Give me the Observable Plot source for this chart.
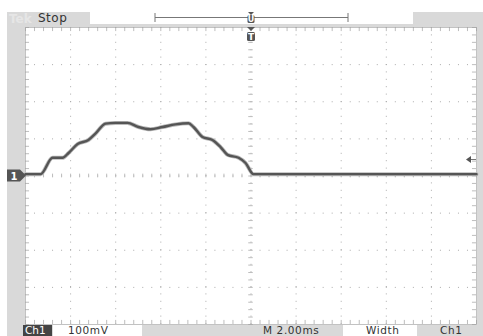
<!DOCTYPE html>
<html><head><meta charset="utf-8">
<script src="https://cdn.jsdelivr.net/npm/d3@7"></script>
<script src="https://cdn.jsdelivr.net/npm/@observablehq/plot@0.6"></script>
<style>
body{margin:0;background:#fff;}
#scope{position:relative;width:483px;height:336px;overflow:hidden;background:#fff;font-family:"DejaVu Sans",sans-serif;}
.abs{position:absolute;left:0;top:0;}
</style></head><body>
<div id="scope">
  <div class="abs" style="left:7px;top:12px;width:476px;height:324px;background:#d9d9d9"></div>
  <div id="chart" class="abs"></div>
  <svg class="abs" width="483" height="336" style="pointer-events:none" font-family="DejaVu Sans, sans-serif">
    <!-- header -->
    <text x="9" y="23" font-size="12" font-weight="bold" fill="#e6e6e6">Tek</text>
    <text x="38" y="22" font-size="12" fill="#333" letter-spacing="0.5">Stop</text>
    <rect x="90" y="12" width="323" height="12" fill="#fff"/>
    <line x1="155" x2="348" y1="17.5" y2="17.5" stroke="#777" stroke-width="1"/>
    <line x1="155" x2="155" y1="13" y2="22" stroke="#777"/>
    <line x1="348" x2="348" y1="13" y2="22" stroke="#777"/>
    <polygon points="248,12 254,12 251,15" fill="#555"/>
    <rect x="247.5" y="15" width="7" height="8" rx="1.5" fill="#555"/>
    <text x="251" y="22" font-size="8" font-weight="bold" fill="#fff" text-anchor="middle">U</text>
    <polygon points="247,27 255,27 251,31" fill="#555"/>
    <rect x="247" y="32" width="8" height="9" rx="1.5" fill="#555"/>
    <text x="251" y="40" font-size="9" font-weight="bold" fill="#fff" text-anchor="middle">T</text>
    <!-- ground marker & trigger level -->
    <polygon points="7,169.5 20,169.5 26,175.5 20,181.5 7,181.5" fill="#555"/>
    <text x="14" y="180" font-size="10" font-weight="bold" fill="#fff" text-anchor="middle">1</text>
    <polygon points="466,159.5 471,156 471,163" fill="#555"/>
    <line x1="471" x2="476" y1="159.5" y2="159.5" stroke="#777"/>
    <!-- footer -->
    <rect x="23" y="325" width="29" height="11" fill="#444"/>
    <text x="25" y="334" font-size="10.5" fill="#fff">Ch1</text>
    <rect x="53" y="325" width="89" height="11" fill="#fff"/>
    <text x="68" y="334" font-size="10.5" fill="#333" letter-spacing="0.6">100mV</text>
    <text x="263" y="334" font-size="10.5" fill="#333" letter-spacing="0.6">M 2.00ms</text>
    <rect x="343" y="325" width="74" height="11" fill="#fff"/>
    <text x="366" y="334" font-size="10.5" fill="#333" letter-spacing="0.6">Width</text>
    <text x="440" y="334" font-size="10.5" fill="#333" letter-spacing="0.6">Ch1</text>
  </svg>
</div>
<script>
// Trace: time (ms, trigger at 0) and voltage (mV, 100 mV/div)
const timeMs = [-10, -9.33, -8.80, -8.36, -8.09, -7.69, -7.21, -6.90, -6.45, -6.01, -5.48, -4.99, -4.46, -3.92, -3.35, -2.77, -2.55, -2.15, -1.71, -1.35, -1.04, -0.55, -0.24, 0.11, 10];
const voltageMv = [5, 5, 49, 49, 62, 86, 97, 114, 141, 143, 143, 132, 126, 132, 139, 142, 132, 105, 97, 78, 57, 49, 35, 5, 5];
const gridTimes = [-8, -6, -4, -2, 0, 2, 4, 6, 8];
const gridVolts = [-300, -200, -100, 0, 100, 200, 300];
const minorTimes = d3.range(-10, 10.001, 0.4);
const minorVolts = d3.range(-400, 400.001, 20);

const trace = timeMs.map((t, i) => ({t, v: voltageMv[i]}));

const chart = Plot.plot({
  width: 483, height: 336,
  marginLeft: 25, marginRight: 7, marginTop: 27, marginBottom: 12,
  x: {domain: [-10, 10], axis: null},
  y: {domain: [-400, 400], axis: null},
  style: {background: "transparent"},
  marks: [
    Plot.frame({fill: "#fff", stroke: null}),
    Plot.gridX(gridTimes, {stroke: "#ababab", strokeOpacity: 1, strokeDasharray: "1,6.4"}),
    Plot.gridY(gridVolts, {stroke: "#ababab", strokeOpacity: 1, strokeDasharray: "1,8.02"}),
    Plot.ruleX(minorTimes, {y1: -5, y2: 5, stroke: "#bdbdbd"}),
    Plot.ruleY(minorVolts, {x1: -0.1, x2: 0.1, stroke: "#bdbdbd"}),
    Plot.ruleX(minorTimes, {y1: 400, y2: 389, stroke: "#bdbdbd"}),
    Plot.ruleX(minorTimes, {y1: -400, y2: -389, stroke: "#bdbdbd"}),
    Plot.ruleY(minorVolts, {x1: -10, x2: -9.82, stroke: "#bdbdbd"}),
    Plot.ruleY(minorVolts, {x1: 10, x2: 9.82, stroke: "#bdbdbd"}),
    Plot.frame({stroke: "#999", strokeDasharray: "1,1"}),
    Plot.line(trace, {x: "t", y: "v", stroke: "#bbb", strokeWidth: 4, curve: "monotone-x"}),
    Plot.line(trace, {x: "t", y: "v", stroke: "#555", strokeWidth: 2.4, curve: "monotone-x"})
  ]
});
document.getElementById("chart").appendChild(chart);
</script>
</body></html>
